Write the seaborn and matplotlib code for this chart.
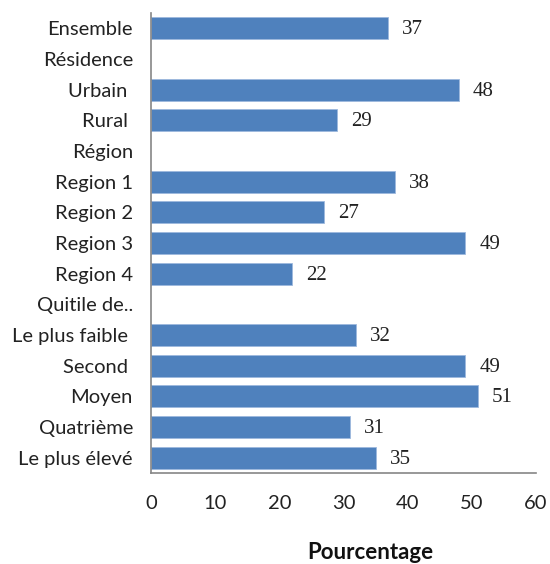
import matplotlib
matplotlib.use("Agg")
import matplotlib.pyplot as plt
import seaborn as sns
import numpy as np
import pandas as pd

categories = ["Ensemble", "Résidence", "Urbain ", "Rural ", "Région", "Region 1",
              "Region 2", "Region 3", "Region 4", "Quitile de..", "Le plus faible ",
              "Second ", "Moyen", "Quatrième", "Le plus élevé"]
values = [37, np.nan, 48, 29, np.nan, 38, 27, 49, 22, np.nan, 32, 49, 51, 31, 35]
x_ticks = [0, 10, 20, 30, 40, 50, 60]
x_label = "Pourcentage"

sns.set_theme(style="white")
plt.rcParams['font.family'] = ['Lato', 'DejaVu Sans']

df = pd.DataFrame({"cat": categories, "val": values})

fig = plt.figure(figsize=(5.5, 5.64), dpi=100)
ax = fig.add_axes([0.2745, 0.1613, 0.70, 0.8157])

sns.barplot(data=df, y="cat", x="val", orient="h", color="#4F81BD",
            saturation=1, width=0.72, edgecolor="#9DB9DE", linewidth=0.6, ax=ax)

ax.set_xlim(0, 60)
ax.set_ylim(len(categories) - 0.5, -0.5)
ax.set_xticks(x_ticks)
ax.set_xticklabels([str(t) for t in x_ticks], fontsize=14.5, color="#222222")
ax.set_yticks(range(len(categories)))
ax.set_yticklabels(categories, fontsize=14.5, color="#222222")
ax.tick_params(axis="y", which="major", length=0, pad=13)
ax.set_yticks(np.arange(-0.5, len(categories), 1), minor=True)
ax.tick_params(axis="y", which="minor", length=6, width=1, color="#868686", direction="out")
ax.tick_params(axis="x", which="major", length=5, width=1, color="#868686", direction="out", pad=11)
ax.set_xlabel("")
ax.set_ylabel("")

for s in ["top", "right"]:
    ax.spines[s].set_visible(False)
for s in ["left", "bottom"]:
    ax.spines[s].set_color("#868686")
    ax.spines[s].set_linewidth(1.2)

for i, v in enumerate(values):
    if not np.isnan(v):
        ax.annotate(f"{int(v)}", xy=(v, i), xytext=(10, -1), textcoords="offset points",
                    va="center", ha="left", fontsize=15, color="#222222",
                    family=["Liberation Serif"])

fig.text(0.673, 0.009, x_label, ha="center", va="baseline", fontsize=16,
         fontweight="bold", color="#111111")

fig.savefig("out.png", dpi=100)
